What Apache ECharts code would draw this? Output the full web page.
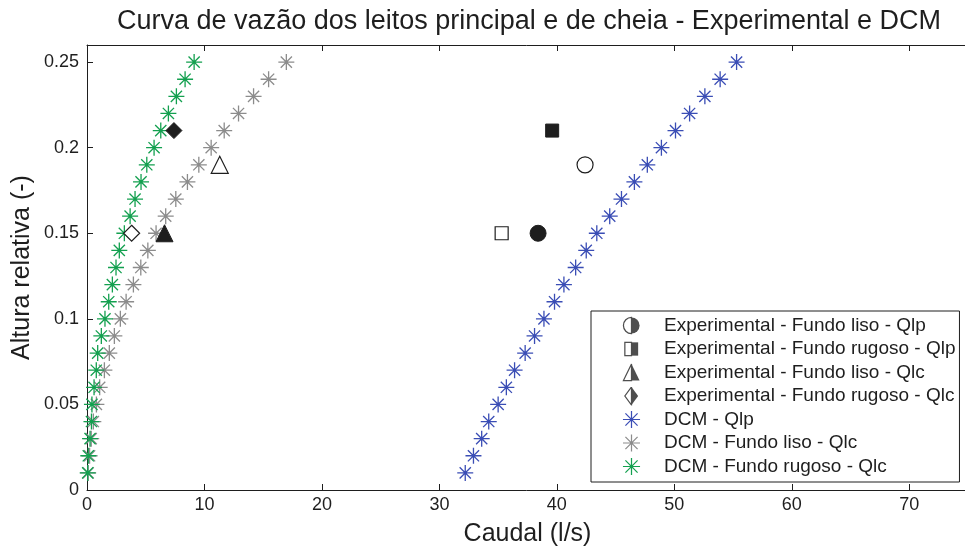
<!DOCTYPE html>
<html>
<head>
<meta charset="utf-8">
<script src="https://cdn.jsdelivr.net/npm/echarts@6/dist/echarts.min.js"></script>
<style>
  html, body { margin: 0; padding: 0; background: #fff; }
  #chart { width: 965px; height: 549px; }
</style>
</head>
<body>
<div id="chart"></div>
<script>
// relative height levels for the DCM curves
const alturas = [0.01, 0.02, 0.03, 0.04, 0.05, 0.06, 0.07, 0.08, 0.09, 0.10,
  0.11, 0.12, 0.13, 0.14, 0.15, 0.16, 0.17, 0.18, 0.19, 0.20,
  0.21, 0.22, 0.23, 0.24, 0.25];

// DCM discharges (l/s)
const dcmQlp = [32.2, 32.9, 33.6, 34.2, 35.0, 35.7, 36.4, 37.3, 38.1, 38.9,
  39.8, 40.6, 41.6, 42.5, 43.4, 44.5, 45.5, 46.6, 47.7, 48.9,
  50.1, 51.3, 52.6, 53.9, 55.3];
const dcmLisoQlc = [0.1, 0.22, 0.36, 0.54, 0.8, 1.08, 1.48, 1.9, 2.33, 2.84,
  3.33, 3.95, 4.58, 5.18, 5.88, 6.7, 7.56, 8.55, 9.52, 10.57,
  11.68, 12.9, 14.18, 15.46, 16.97];
const dcmRugosoQlc = [0.06, 0.11, 0.26, 0.38, 0.42, 0.6, 0.79, 0.91, 1.22, 1.53,
  1.85, 2.16, 2.47, 2.75, 3.18, 3.67, 4.09, 4.6, 5.09, 5.71,
  6.28, 6.93, 7.61, 8.35, 9.12];

// experimental points: [caudal, altura, filled]
const expLisoQlp = [[38.4, 0.15, true], [42.4, 0.19, false]];
const expRugosoQlp = [[39.6, 0.21, true], [35.3, 0.15, false]];
const expLisoQlc = [[6.6, 0.15, true], [11.3, 0.19, false]];
const expRugosoQlc = [[7.4, 0.21, true], [3.8, 0.15, false]];

const nomes = [
  "Experimental - Fundo liso - Qlp",
  "Experimental - Fundo rugoso - Qlp",
  "Experimental - Fundo liso - Qlc",
  "Experimental - Fundo rugoso - Qlc",
  "DCM - Qlp",
  "DCM - Fundo liso - Qlc",
  "DCM - Fundo rugoso - Qlc"
];

const BLUE = "#3a4db5";
const GRAY = "#8c8c8c";
const GREEN = "#13a04f";
const INK = "#1e1e1e";

const star = "path://M0 10 L20 10 M10 0 L10 20 M3 3 L17 17 M3 17 L17 3";

function svgIcon(body) {
  const svg = '<svg xmlns="http://www.w3.org/2000/svg" width="20" height="20" viewBox="0 0 20 20">' + body + '</svg>';
  return "image://data:image/svg+xml;charset=utf-8," + encodeURIComponent(svg);
}
const starIcon = (c) => svgIcon('<path d="M1 10 L19 10 M10 1 L10 19 M3.6 3.6 L16.4 16.4 M3.6 16.4 L16.4 3.6" stroke="' + c + '" stroke-width="1.3"/>');
const icons = [
  svgIcon('<path d="M10 1.5 A8.5 8.5 0 0 0 10 18.5 Z" fill="#fff" stroke="#222" stroke-width="1.3"/><path d="M10 1.5 A8.5 8.5 0 0 1 10 18.5 Z" fill="#222"/>'),
  svgIcon('<rect x="3" y="3" width="7" height="14" fill="#fff" stroke="#222" stroke-width="1.3"/><rect x="10" y="3" width="7" height="14" fill="#222"/>'),
  svgIcon('<path d="M10 1 L1.5 18.5 L10 18.5 Z" fill="#fff" stroke="#222" stroke-width="1.3"/><path d="M10 1 L18.5 18.5 L10 18.5 Z" fill="#222"/>'),
  svgIcon('<path d="M10 0.5 L3 10 L10 19.5 Z" fill="#fff" stroke="#222" stroke-width="1.3"/><path d="M10 0.5 L17 10 L10 19.5 Z" fill="#222"/>'),
  starIcon(BLUE),
  starIcon(GRAY),
  starIcon(GREEN)
];

function expSeries(name, pts, symbol, size) {
  return {
    name: name,
    type: "scatter",
    symbol: symbol,
    symbolSize: size,
    z: 5,
    data: pts.map((p) => ({
      value: [p[0], p[1]],
      itemStyle: p[2]
        ? { color: INK, borderColor: INK, borderWidth: 1, opacity: 1 }
        : { color: "#fff", borderColor: INK, borderWidth: 1.2, opacity: 1 }
    }))
  };
}

function dcmSeries(name, xs, color) {
  return {
    name: name,
    type: "scatter",
    symbol: star,
    symbolSize: 16,
    z: 3,
    itemStyle: { color: "rgba(0,0,0,0)", borderColor: color, borderWidth: 1.3, opacity: 1 },
    data: xs.map((x, i) => [x, alturas[i]])
  };
}

const chart = echarts.init(document.getElementById("chart"));
chart.setOption({
  animation: false,
  textStyle: { fontFamily: "Liberation Sans, Arial, sans-serif" },
  title: {
    text: "Curva de vazão dos leitos principal e de cheia - Experimental e DCM",
    left: 524,
    textAlign: "center",
    top: 3,
    textStyle: { fontSize: 27, fontWeight: "normal", color: INK }
  },
  grid: { left: 87, right: -3, top: 45, bottom: 59, outerBoundsMode: "none" },
  legend: {
    orient: "vertical",
    left: 591,
    top: 311,
    backgroundColor: "#fff",
    borderColor: INK,
    borderWidth: 1,
    padding: [5, 4, 6, 31],
    itemGap: 4.5,
    itemWidth: 19,
    itemHeight: 19,
    textStyle: { fontSize: 19, color: INK, padding: [0, 0, 0, 18] },
    data: nomes.map((n, i) => ({ name: n, icon: icons[i] }))
  },
  xAxis: [
    {
      type: "value", min: 0, max: 75, interval: 10,
      name: "Caudal (l/s)", nameLocation: "middle", nameGap: 32,
      nameTextStyle: { fontSize: 25, color: INK },
      axisLine: { lineStyle: { color: INK } },
      axisTick: { inside: true, length: 6, lineStyle: { color: INK } },
      axisLabel: { fontSize: 18, color: INK, margin: 6, showMaxLabel: false },
      splitLine: { show: false }
    },
    {
      type: "value", min: 0, max: 75, interval: 10, position: "top",
      axisLine: { lineStyle: { color: INK } },
      axisTick: { inside: true, length: 6, lineStyle: { color: INK } },
      axisLabel: { show: false },
      splitLine: { show: false }
    }
  ],
  yAxis: [
    {
      type: "value", min: 0, max: 0.26, interval: 0.05,
      name: "Altura relativa (-)", nameLocation: "middle", nameGap: 52,
      nameMoveOverlap: false,
      nameTextStyle: { fontSize: 25, color: INK },
      axisLine: { lineStyle: { color: INK } },
      axisTick: { inside: true, length: 6, lineStyle: { color: INK } },
      axisLabel: { fontSize: 18, color: INK, margin: 8, showMaxLabel: false },
      splitLine: { show: false }
    }
  ],
  series: [
    expSeries(nomes[0], expLisoQlp, "circle", 16),
    expSeries(nomes[1], expRugosoQlp, "rect", 13),
    expSeries(nomes[2], expLisoQlc, "triangle", 17),
    expSeries(nomes[3], expRugosoQlc, "diamond", 16),
    dcmSeries(nomes[4], dcmQlp, BLUE),
    dcmSeries(nomes[5], dcmLisoQlc, GRAY),
    dcmSeries(nomes[6], dcmRugosoQlc, GREEN)
  ]
});
</script>
</body>
</html>
